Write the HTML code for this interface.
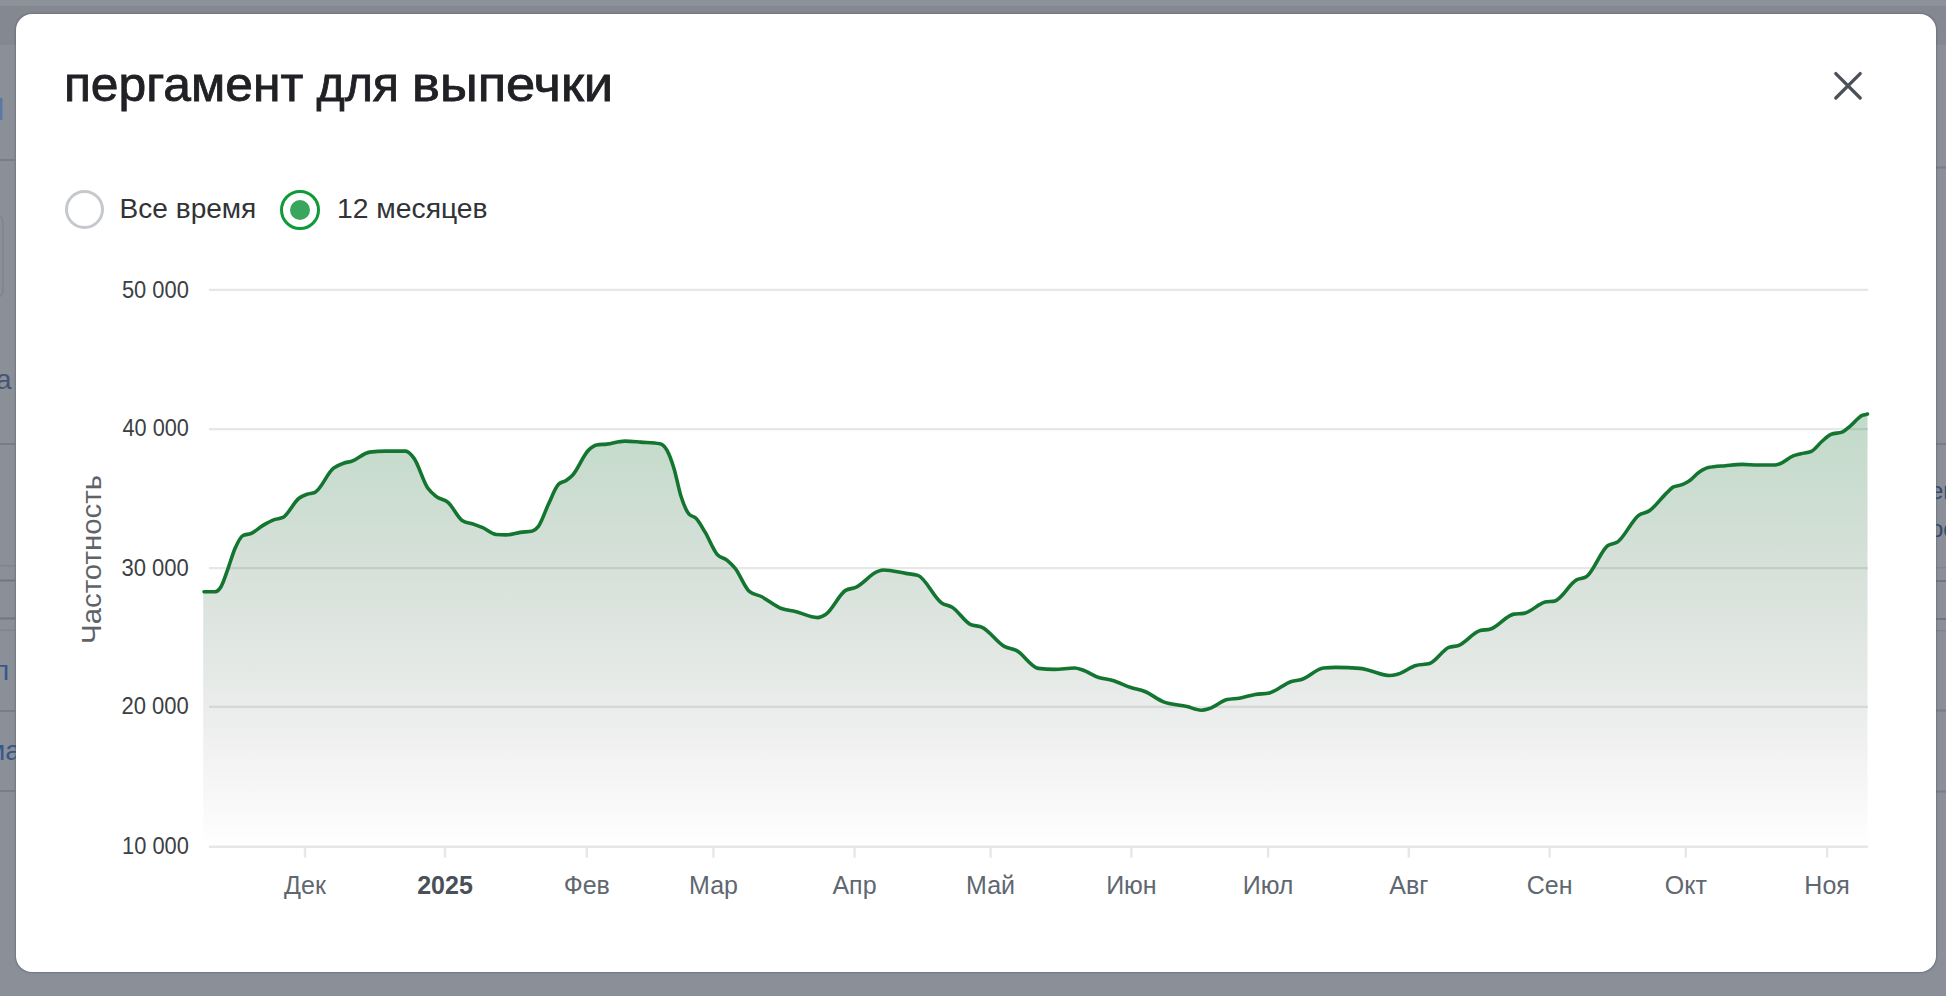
<!DOCTYPE html>
<html><head><meta charset="utf-8">
<style>
html,body{margin:0;padding:0;width:1946px;height:996px;overflow:hidden;background:#8a8f98;font-family:"Liberation Sans",sans-serif;}
.bg{position:absolute;left:0;top:0;width:1946px;height:996px;}
.topband{position:absolute;left:0;top:0;width:1946px;height:5.5px;background:#8d9199;}
.hdr{position:absolute;left:0;top:5.5px;width:1946px;height:39.5px;background:#838891;}
.modal{position:absolute;left:15.5px;top:13.5px;width:1920.8px;height:958.8px;background:#fff;border-radius:16px;box-shadow:0 0 1.5px 0.5px rgba(80,84,92,0.4);}
.title{position:absolute;left:64px;top:60px;font-size:48px;color:#1f2124;white-space:nowrap;letter-spacing:0px;}
.radio{position:absolute;box-sizing:border-box;border-radius:50%;}
.r1{left:64.5px;top:190px;width:39px;height:39px;border:3.3px solid #c5c9ce;}
.r2{left:280px;top:190px;width:40px;height:40px;border:3.3px solid #0e9a36;}
.r2 i{position:absolute;left:6.7px;top:6.7px;width:20px;height:20px;border-radius:50%;background:#3aa55c;}
.lbl{position:absolute;top:192px;font-size:27px;color:#2a2c30;white-space:nowrap;}
svg{position:absolute;left:0;top:0;}
.yl{font-size:23px;fill:#3c4043;}
.xl{font-size:25px;fill:#5f6770;}
</style></head><body>
<div class="topband"></div><div class="hdr"></div>
<svg width="1946" height="996" style="position:absolute;left:0;top:0">
<g fill="#787d86">
<rect x="0" y="159" width="15" height="2"/>
<rect x="0" y="443" width="15" height="2"/>
<rect x="0" y="565" width="15" height="1.5" fill="#80858d"/>
<rect x="0" y="579.5" width="15" height="2" fill="#72777f"/>
<rect x="0" y="617.5" width="15" height="2" fill="#72777f"/>
<rect x="0" y="629.5" width="15" height="1.5" fill="#80858d"/>
<rect x="0" y="710" width="15" height="2"/>
<rect x="0" y="790" width="15" height="2"/>
<rect x="1936" y="166.5" width="10" height="2"/>
<rect x="1936" y="443" width="10" height="2"/>
<rect x="1936" y="567" width="10" height="1.5" fill="#80858d"/>
<rect x="1936" y="580" width="10" height="2" fill="#72777f"/>
<rect x="1936" y="618" width="10" height="2" fill="#72777f"/>
<rect x="1936" y="630" width="10" height="1.5" fill="#80858d"/>
<rect x="1936" y="709.5" width="10" height="2"/>
<rect x="1936" y="790.5" width="10" height="2"/>
</g>
<rect x="0" y="98" width="2.5" height="22" fill="#5a7aa3"/>
<rect x="-10" y="216" width="13" height="81" rx="6" fill="none" stroke="#7d828b" stroke-width="1.2"/>
<text x="-4" y="389" font-size="28" fill="#475670">a</text>
<text x="-6" y="680" font-size="28" fill="#36598a">п</text>
<text x="-14" y="760" font-size="28" fill="#36598a">ма</text>
<text x="1930" y="499" font-size="24" fill="#33496b">ен</text>
<text x="1930" y="537" font-size="24" fill="#33496b">ос</text>
</svg>
<div class="modal"></div>
<div class="radio r1"></div>
<div class="radio r2"><i></i></div>
<svg width="1946" height="996" viewBox="0 0 1946 996">
<defs>
<linearGradient id="g" x1="0" y1="414" x2="0" y2="846.7" gradientUnits="userSpaceOnUse">
<stop offset="0" stop-color="rgb(19,117,48)" stop-opacity="0.26"/>
<stop offset="1" stop-color="rgb(0,0,0)" stop-opacity="0"/>
</linearGradient>
</defs>
<text x="63.9" y="101.2" font-size="48" fill="#202124" stroke="#202124" stroke-width="0.8" textLength="239.37" lengthAdjust="spacingAndGlyphs">пергамент</text>
<text x="316.4" y="101.2" font-size="48" fill="#202124" stroke="#202124" stroke-width="0.8" textLength="82.68" lengthAdjust="spacingAndGlyphs">для</text>
<text x="412.1" y="101.2" font-size="48" fill="#202124" stroke="#202124" stroke-width="0.8" textLength="201.09" lengthAdjust="spacingAndGlyphs">выпечки</text>
<text x="119.6" y="217.8" font-size="28.5" fill="#313337" textLength="136.72" lengthAdjust="spacingAndGlyphs">Все время</text>
<text x="336.9" y="217.8" font-size="28.5" fill="#313337" textLength="150.77" lengthAdjust="spacingAndGlyphs">12 месяцев</text>
<path d="M1835.8,73.6 L1860.2,98 M1860.2,73.6 L1835.8,98" stroke="#4b515a" stroke-width="3.3" stroke-linecap="round" fill="none"/>
<g stroke="#e7e7e7" stroke-width="2.4">
<line x1="209" y1="289.9" x2="1868" y2="289.9"/>
<line x1="209" y1="429.1" x2="1868" y2="429.1"/>
<line x1="209" y1="568.1" x2="1868" y2="568.1"/>
<line x1="209" y1="706.9" x2="1868" y2="706.9"/>
<line x1="209" y1="846.7" x2="1868" y2="846.7"/>
<line x1="305" y1="847" x2="305" y2="857.6"/>
<line x1="445" y1="847" x2="445" y2="857.6"/>
<line x1="586.8" y1="847" x2="586.8" y2="857.6"/>
<line x1="713.5" y1="847" x2="713.5" y2="857.6"/>
<line x1="854.5" y1="847" x2="854.5" y2="857.6"/>
<line x1="990.6" y1="847" x2="990.6" y2="857.6"/>
<line x1="1131.4" y1="847" x2="1131.4" y2="857.6"/>
<line x1="1268.1" y1="847" x2="1268.1" y2="857.6"/>
<line x1="1408.8" y1="847" x2="1408.8" y2="857.6"/>
<line x1="1549.6" y1="847" x2="1549.6" y2="857.6"/>
<line x1="1685.8" y1="847" x2="1685.8" y2="857.6"/>
<line x1="1827.1" y1="847" x2="1827.1" y2="857.6"/>
</g>
<path d="M204.0,591.7 C207.7,591.7 211.3,591.7 215.0,591.7 C217.0,591.7 219.0,590.0 221.0,586.7 C223.3,582.9 225.7,575.0 228.0,568.6 C230.3,562.2 232.7,553.8 235.0,548.5 C237.7,542.4 240.3,536.8 243.0,535.5 C245.7,534.2 248.3,534.6 251.0,533.5 C255.0,531.8 259.0,527.8 263.0,525.4 C267.0,523.0 271.0,520.8 275.0,519.4 C277.7,518.5 280.3,518.7 283.0,517.4 C288.3,514.7 293.7,502.2 299.0,498.3 C301.7,496.4 304.3,495.3 307.0,494.3 C309.7,493.3 312.3,493.6 315.0,492.3 C321.2,489.2 327.3,473.0 333.5,468.2 C336.9,465.6 340.2,464.4 343.6,463.2 C346.3,462.2 348.9,462.1 351.6,461.2 C357.6,459.2 363.7,452.8 369.7,452.1 C375.1,451.4 380.4,451.1 385.8,451.1 C392.5,451.1 399.1,451.1 405.8,451.1 C408.5,451.1 411.2,454.6 413.9,458.2 C418.6,464.5 423.2,481.7 427.9,488.3 C430.6,492.1 433.3,494.2 436.0,496.3 C440.0,499.5 444.0,498.9 448.0,502.3 C452.7,506.3 457.4,517.3 462.1,520.4 C466.1,523.1 470.1,523.0 474.1,524.4 C476.8,525.4 479.5,526.3 482.2,527.4 C486.9,529.4 491.5,534.1 496.2,534.5 C499.6,534.8 502.9,534.9 506.3,534.9 C511.0,534.9 515.6,533.1 520.3,532.4 C524.3,531.8 528.4,531.9 532.4,531.0 C534.4,530.5 536.4,529.0 538.4,526.4 C541.7,522.0 545.1,511.3 548.4,504.3 C551.8,497.2 555.1,487.8 558.5,484.3 C561.2,481.6 563.8,482.1 566.5,480.2 C568.5,478.8 570.5,477.3 572.5,475.2 C577.9,469.7 583.2,455.1 588.6,450.1 C591.3,447.6 593.9,445.6 596.6,445.1 C600.0,444.4 603.3,444.5 606.7,444.1 C612.7,443.4 618.7,441.1 624.7,441.1 C630.1,441.1 635.4,441.7 640.8,442.1 C647.2,442.6 653.5,442.6 659.9,443.7 C662.2,444.1 664.6,446.0 666.9,450.1 C669.2,454.2 671.6,460.6 673.9,468.2 C676.3,475.9 678.6,488.9 681.0,496.3 C683.7,504.7 686.3,511.0 689.0,514.1 C691.3,516.8 693.7,515.9 696.0,518.2 C699.0,521.2 702.1,527.1 705.1,532.2 C709.1,538.9 713.1,549.6 717.1,554.3 C720.5,558.2 723.8,557.5 727.2,560.3 C729.9,562.5 732.5,565.1 735.2,568.4 C739.9,574.2 744.6,587.4 749.3,591.4 C753.3,594.8 757.3,594.5 761.3,596.5 C768.0,599.8 774.7,606.0 781.4,608.5 C786.1,610.2 790.7,610.4 795.4,611.5 C802.8,613.3 810.1,617.6 817.5,617.6 C820.2,617.6 822.9,616.2 825.6,614.5 C832.3,610.4 838.9,594.4 845.6,590.4 C849.0,588.4 852.3,588.9 855.7,587.4 C863.1,584.2 870.4,573.9 877.8,571.4 C879.8,570.7 881.8,570.0 883.8,570.0 C891.2,570.0 898.5,572.2 905.9,573.4 C909.9,574.0 913.9,574.1 917.9,575.4 C925.9,578.1 934.0,598.2 942.0,603.2 C945.4,605.3 948.7,605.2 952.1,607.2 C958.1,610.8 964.2,621.3 970.2,624.3 C974.2,626.3 978.2,625.4 982.2,627.3 C989.6,630.7 996.9,642.4 1004.3,646.3 C1008.3,648.4 1012.3,648.4 1016.3,650.4 C1023.7,654.1 1031.0,667.5 1038.4,668.4 C1043.8,669.1 1049.1,669.4 1054.5,669.4 C1061.2,669.4 1067.9,668.0 1074.6,668.0 C1077.3,668.0 1079.9,669.1 1082.6,670.0 C1088.0,671.7 1093.3,675.7 1098.7,677.5 C1103.4,679.0 1108.0,679.1 1112.7,680.5 C1118.7,682.2 1124.8,685.5 1130.8,687.5 C1135.5,689.0 1140.2,689.6 1144.9,691.5 C1150.9,693.9 1156.9,699.1 1162.9,701.6 C1170.9,704.9 1179.0,704.7 1187.0,706.6 C1191.7,707.7 1196.4,710.2 1201.1,710.2 C1203.8,710.2 1206.4,709.4 1209.1,708.6 C1215.1,706.8 1221.2,701.0 1227.2,699.6 C1231.2,698.7 1235.3,698.9 1239.3,698.2 C1244.6,697.3 1250.0,695.4 1255.3,694.5 C1260.0,693.7 1264.7,694.0 1269.4,692.9 C1276.8,691.2 1284.1,683.7 1291.5,681.5 C1294.8,680.5 1298.2,680.5 1301.5,679.5 C1308.9,677.3 1316.2,668.7 1323.6,668.0 C1327.6,667.6 1331.6,667.4 1335.6,667.4 C1343.6,667.4 1351.7,667.7 1359.7,668.4 C1362.4,668.6 1365.1,669.4 1367.8,670.0 C1375.2,671.6 1382.5,675.5 1389.9,675.5 C1392.6,675.5 1395.2,674.8 1397.9,674.1 C1403.9,672.5 1410.0,667.1 1416.0,665.4 C1420.5,664.1 1425.1,664.8 1429.6,663.5 C1436.0,661.7 1442.5,649.9 1448.9,647.4 C1452.1,646.1 1455.3,646.6 1458.5,645.5 C1465.7,643.0 1473.0,632.3 1480.2,630.5 C1483.4,629.7 1486.6,630.1 1489.8,629.3 C1497.8,627.3 1505.9,615.3 1513.9,614.1 C1517.1,613.6 1520.4,613.9 1523.6,613.4 C1530.8,612.4 1538.0,603.9 1545.2,602.1 C1548.4,601.3 1551.7,601.7 1554.9,600.9 C1562.1,599.1 1569.3,583.7 1576.5,579.9 C1579.7,578.2 1583.0,578.9 1586.2,576.8 C1593.4,572.2 1600.7,550.6 1607.9,545.5 C1611.1,543.3 1614.3,544.0 1617.5,541.9 C1624.7,537.3 1632.0,519.6 1639.2,514.9 C1642.4,512.8 1645.6,513.1 1648.8,511.1 C1654.7,507.5 1660.6,498.6 1666.5,493.1 C1668.7,491.1 1670.8,488.4 1673.0,487.2 C1676.1,485.5 1679.1,485.9 1682.2,484.6 C1684.4,483.7 1686.5,482.7 1688.7,481.3 C1692.2,479.1 1695.6,474.5 1699.1,472.2 C1702.2,470.1 1705.2,468.3 1708.3,467.6 C1713.9,466.3 1719.6,466.2 1725.2,465.7 C1730.9,465.2 1736.5,464.4 1742.2,464.4 C1747.4,464.4 1752.7,465.0 1757.9,465.0 C1763.5,465.0 1769.2,465.0 1774.8,465.0 C1776.5,465.0 1778.3,464.3 1780.0,463.7 C1784.4,462.2 1788.7,457.6 1793.1,455.9 C1795.7,454.9 1798.3,454.4 1800.9,453.7 C1804.4,452.8 1807.9,452.9 1811.4,451.3 C1814.9,449.7 1818.3,444.5 1821.8,441.5 C1824.8,438.9 1827.9,435.7 1830.9,434.4 C1834.8,432.7 1838.8,433.5 1842.7,431.8 C1845.3,430.7 1847.9,428.0 1850.5,425.9 C1854.4,422.7 1858.3,417.1 1862.2,415.4 C1864.0,414.6 1865.7,414.5 1867.5,414.1 L1867.5,846.7 L203.2,846.7 L203.2,591.7 Z" fill="url(#g)"/>
<path d="M204.0,591.7 C207.7,591.7 211.3,591.7 215.0,591.7 C217.0,591.7 219.0,590.0 221.0,586.7 C223.3,582.9 225.7,575.0 228.0,568.6 C230.3,562.2 232.7,553.8 235.0,548.5 C237.7,542.4 240.3,536.8 243.0,535.5 C245.7,534.2 248.3,534.6 251.0,533.5 C255.0,531.8 259.0,527.8 263.0,525.4 C267.0,523.0 271.0,520.8 275.0,519.4 C277.7,518.5 280.3,518.7 283.0,517.4 C288.3,514.7 293.7,502.2 299.0,498.3 C301.7,496.4 304.3,495.3 307.0,494.3 C309.7,493.3 312.3,493.6 315.0,492.3 C321.2,489.2 327.3,473.0 333.5,468.2 C336.9,465.6 340.2,464.4 343.6,463.2 C346.3,462.2 348.9,462.1 351.6,461.2 C357.6,459.2 363.7,452.8 369.7,452.1 C375.1,451.4 380.4,451.1 385.8,451.1 C392.5,451.1 399.1,451.1 405.8,451.1 C408.5,451.1 411.2,454.6 413.9,458.2 C418.6,464.5 423.2,481.7 427.9,488.3 C430.6,492.1 433.3,494.2 436.0,496.3 C440.0,499.5 444.0,498.9 448.0,502.3 C452.7,506.3 457.4,517.3 462.1,520.4 C466.1,523.1 470.1,523.0 474.1,524.4 C476.8,525.4 479.5,526.3 482.2,527.4 C486.9,529.4 491.5,534.1 496.2,534.5 C499.6,534.8 502.9,534.9 506.3,534.9 C511.0,534.9 515.6,533.1 520.3,532.4 C524.3,531.8 528.4,531.9 532.4,531.0 C534.4,530.5 536.4,529.0 538.4,526.4 C541.7,522.0 545.1,511.3 548.4,504.3 C551.8,497.2 555.1,487.8 558.5,484.3 C561.2,481.6 563.8,482.1 566.5,480.2 C568.5,478.8 570.5,477.3 572.5,475.2 C577.9,469.7 583.2,455.1 588.6,450.1 C591.3,447.6 593.9,445.6 596.6,445.1 C600.0,444.4 603.3,444.5 606.7,444.1 C612.7,443.4 618.7,441.1 624.7,441.1 C630.1,441.1 635.4,441.7 640.8,442.1 C647.2,442.6 653.5,442.6 659.9,443.7 C662.2,444.1 664.6,446.0 666.9,450.1 C669.2,454.2 671.6,460.6 673.9,468.2 C676.3,475.9 678.6,488.9 681.0,496.3 C683.7,504.7 686.3,511.0 689.0,514.1 C691.3,516.8 693.7,515.9 696.0,518.2 C699.0,521.2 702.1,527.1 705.1,532.2 C709.1,538.9 713.1,549.6 717.1,554.3 C720.5,558.2 723.8,557.5 727.2,560.3 C729.9,562.5 732.5,565.1 735.2,568.4 C739.9,574.2 744.6,587.4 749.3,591.4 C753.3,594.8 757.3,594.5 761.3,596.5 C768.0,599.8 774.7,606.0 781.4,608.5 C786.1,610.2 790.7,610.4 795.4,611.5 C802.8,613.3 810.1,617.6 817.5,617.6 C820.2,617.6 822.9,616.2 825.6,614.5 C832.3,610.4 838.9,594.4 845.6,590.4 C849.0,588.4 852.3,588.9 855.7,587.4 C863.1,584.2 870.4,573.9 877.8,571.4 C879.8,570.7 881.8,570.0 883.8,570.0 C891.2,570.0 898.5,572.2 905.9,573.4 C909.9,574.0 913.9,574.1 917.9,575.4 C925.9,578.1 934.0,598.2 942.0,603.2 C945.4,605.3 948.7,605.2 952.1,607.2 C958.1,610.8 964.2,621.3 970.2,624.3 C974.2,626.3 978.2,625.4 982.2,627.3 C989.6,630.7 996.9,642.4 1004.3,646.3 C1008.3,648.4 1012.3,648.4 1016.3,650.4 C1023.7,654.1 1031.0,667.5 1038.4,668.4 C1043.8,669.1 1049.1,669.4 1054.5,669.4 C1061.2,669.4 1067.9,668.0 1074.6,668.0 C1077.3,668.0 1079.9,669.1 1082.6,670.0 C1088.0,671.7 1093.3,675.7 1098.7,677.5 C1103.4,679.0 1108.0,679.1 1112.7,680.5 C1118.7,682.2 1124.8,685.5 1130.8,687.5 C1135.5,689.0 1140.2,689.6 1144.9,691.5 C1150.9,693.9 1156.9,699.1 1162.9,701.6 C1170.9,704.9 1179.0,704.7 1187.0,706.6 C1191.7,707.7 1196.4,710.2 1201.1,710.2 C1203.8,710.2 1206.4,709.4 1209.1,708.6 C1215.1,706.8 1221.2,701.0 1227.2,699.6 C1231.2,698.7 1235.3,698.9 1239.3,698.2 C1244.6,697.3 1250.0,695.4 1255.3,694.5 C1260.0,693.7 1264.7,694.0 1269.4,692.9 C1276.8,691.2 1284.1,683.7 1291.5,681.5 C1294.8,680.5 1298.2,680.5 1301.5,679.5 C1308.9,677.3 1316.2,668.7 1323.6,668.0 C1327.6,667.6 1331.6,667.4 1335.6,667.4 C1343.6,667.4 1351.7,667.7 1359.7,668.4 C1362.4,668.6 1365.1,669.4 1367.8,670.0 C1375.2,671.6 1382.5,675.5 1389.9,675.5 C1392.6,675.5 1395.2,674.8 1397.9,674.1 C1403.9,672.5 1410.0,667.1 1416.0,665.4 C1420.5,664.1 1425.1,664.8 1429.6,663.5 C1436.0,661.7 1442.5,649.9 1448.9,647.4 C1452.1,646.1 1455.3,646.6 1458.5,645.5 C1465.7,643.0 1473.0,632.3 1480.2,630.5 C1483.4,629.7 1486.6,630.1 1489.8,629.3 C1497.8,627.3 1505.9,615.3 1513.9,614.1 C1517.1,613.6 1520.4,613.9 1523.6,613.4 C1530.8,612.4 1538.0,603.9 1545.2,602.1 C1548.4,601.3 1551.7,601.7 1554.9,600.9 C1562.1,599.1 1569.3,583.7 1576.5,579.9 C1579.7,578.2 1583.0,578.9 1586.2,576.8 C1593.4,572.2 1600.7,550.6 1607.9,545.5 C1611.1,543.3 1614.3,544.0 1617.5,541.9 C1624.7,537.3 1632.0,519.6 1639.2,514.9 C1642.4,512.8 1645.6,513.1 1648.8,511.1 C1654.7,507.5 1660.6,498.6 1666.5,493.1 C1668.7,491.1 1670.8,488.4 1673.0,487.2 C1676.1,485.5 1679.1,485.9 1682.2,484.6 C1684.4,483.7 1686.5,482.7 1688.7,481.3 C1692.2,479.1 1695.6,474.5 1699.1,472.2 C1702.2,470.1 1705.2,468.3 1708.3,467.6 C1713.9,466.3 1719.6,466.2 1725.2,465.7 C1730.9,465.2 1736.5,464.4 1742.2,464.4 C1747.4,464.4 1752.7,465.0 1757.9,465.0 C1763.5,465.0 1769.2,465.0 1774.8,465.0 C1776.5,465.0 1778.3,464.3 1780.0,463.7 C1784.4,462.2 1788.7,457.6 1793.1,455.9 C1795.7,454.9 1798.3,454.4 1800.9,453.7 C1804.4,452.8 1807.9,452.9 1811.4,451.3 C1814.9,449.7 1818.3,444.5 1821.8,441.5 C1824.8,438.9 1827.9,435.7 1830.9,434.4 C1834.8,432.7 1838.8,433.5 1842.7,431.8 C1845.3,430.7 1847.9,428.0 1850.5,425.9 C1854.4,422.7 1858.3,417.1 1862.2,415.4 C1864.0,414.6 1865.7,414.5 1867.5,414.1" stroke="#137530" stroke-width="3.6" fill="none" stroke-linejoin="round" stroke-linecap="round"/>
<g class="yl">
<text x="121.9" y="297.8" textLength="66.92" lengthAdjust="spacingAndGlyphs">50 000</text>
<text x="122.5" y="435.7" textLength="66.31" lengthAdjust="spacingAndGlyphs">40 000</text>
<text x="121.5" y="575.8" textLength="67.36" lengthAdjust="spacingAndGlyphs">30 000</text>
<text x="121.5" y="713.6" textLength="67.36" lengthAdjust="spacingAndGlyphs">20 000</text>
<text x="122.1" y="853.8" textLength="66.78" lengthAdjust="spacingAndGlyphs">10 000</text>
</g>
<text transform="translate(101.1,559.4) rotate(-90)" text-anchor="middle" font-size="28" fill="#5f6368" textLength="169" lengthAdjust="spacingAndGlyphs">Частотность</text>
<g class="xl" text-anchor="middle">
<text x="305" y="893.6">Дек</text>
<text x="445" y="893.6" font-weight="bold" fill="#4a5057">2025</text>
<text x="586.8" y="893.6">Фев</text>
<text x="713.5" y="893.6">Мар</text>
<text x="854.5" y="893.6">Апр</text>
<text x="990.6" y="893.6">Май</text>
<text x="1131.4" y="893.6">Июн</text>
<text x="1268.1" y="893.6">Июл</text>
<text x="1408.8" y="893.6">Авг</text>
<text x="1549.6" y="893.6">Сен</text>
<text x="1685.8" y="893.6">Окт</text>
<text x="1827.1" y="893.6">Ноя</text>
</g>
</svg>
</body></html>
